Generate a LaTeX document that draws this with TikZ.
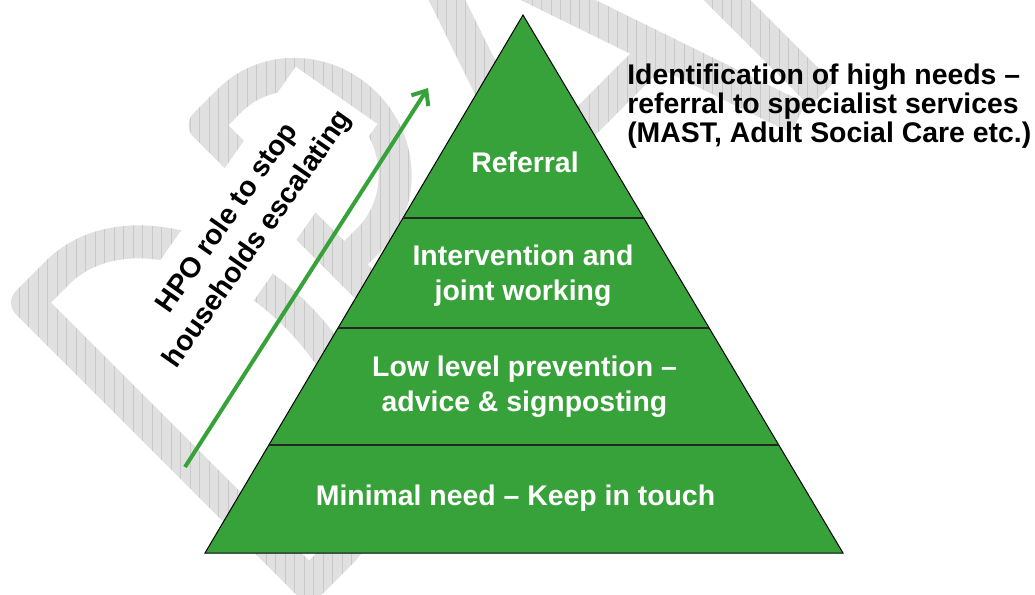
\documentclass[tikz,border=0pt]{standalone}
\usepackage{fontspec}
\setmainfont{Liberation Sans}
\usetikzlibrary{arrows.meta,calc}
\definecolor{pyrgreen}{RGB}{56,162,58}
\definecolor{wmgrey}{RGB}{224,224,224}
\definecolor{wmgrid}{RGB}{144,144,144}
\begin{document}
\begin{tikzpicture}[x=0.75pt,y=-0.75pt,
  layertext/.style={text=white,font=\bfseries\fontsize{21.3}{26.25}\selectfont,align=center,inner sep=0pt},
  notetext/.style={text=black,font=\bfseries\fontsize{21.3}{21.75}\selectfont,align=left,anchor=west,inner sep=0pt},
  sidetext/.style={text=black,fill=white,font=\bfseries\fontsize{21.3}{27.75}\selectfont,align=center,
    inner xsep=7.5pt,inner ysep=13.5pt},
  divider/.style={draw=black!85,line width=1.5pt},
  wmstroke/.style={draw=wmgrey,line width=24.75pt,line join=round},
  risearrow/.style={draw=pyrgreen,line width=3pt,-{Straight Barb[length=9pt,width=15pt]}},
]
\useasboundingbox (0,0) rectangle (1035,595);
\fill[white] (0,0) rectangle (1035,595);

% watermark lettering, drawn along a 45 degree baseline
\begin{scope}[rotate=45]
  % D
  \draw[wmstroke] (-194.5,631.5) -- (-194.5,233.5) -- (-152,233.5)
    .. controls (-75.5,233.5) and (-13.5,322.6) .. (-13.5,432.5)
    .. controls (-13.5,542.4) and (-75.5,631.5) .. (-152,631.5) -- cycle;
  % R
  \draw[wmstroke] (56.5,648) -- (56.5,233.5) -- (91,233.5)
    .. controls (142.6,233.5) and (184.5,277.6) .. (184.5,332)
    .. controls (184.5,386.4) and (142.6,430.5) .. (91,430.5) -- (56.5,430.5);
  \draw[wmstroke] (118,430.5) -- (198,640);
  % A
  \draw[wmstroke] (203,648) -- (342,240) -- (481,648);
  \draw[wmstroke] (251,500) -- (433,500);
  % F
  \draw[wmstroke] (514,648) -- (514,233.5) -- (680,233.5);
  \draw[wmstroke] (514,440) -- (650,440);
  % T
  \draw[wmstroke] (600,233.5) -- (800,233.5);
  \draw[wmstroke] (700,233.5) -- (700,648);
\end{scope}
\begin{scope}[blend mode=color burn]
  \draw[wmgrid,line width=0.6pt,step=9.5] (0,0) grid (1035,595);
\end{scope}

% side label on a white text box
\node[sidetext,rotate=55] (hpo) at (243,229) {HPO role to stop\\households escalating};

% rising arrow
\coordinate (arrowtail) at (185,467);
\coordinate (arrowtip) at (428,88);
\draw[risearrow] (arrowtail) -- (arrowtip);

% pyramid
\coordinate (apex) at (523,15);
\coordinate (bl) at (205,553);
\coordinate (br) at (843,553);
\filldraw[fill=pyrgreen,draw=black,line width=0.75pt] (apex) -- (bl) -- (br) -- cycle;
\coordinate (d1l) at ($(apex)!0.3773!(bl)$);
\coordinate (d1r) at ($(apex)!0.3773!(br)$);
\coordinate (d2l) at ($(apex)!0.5818!(bl)$);
\coordinate (d2r) at ($(apex)!0.5818!(br)$);
\coordinate (d3l) at ($(apex)!0.7993!(bl)$);
\coordinate (d3r) at ($(apex)!0.7993!(br)$);
\draw[divider] (d1l) -- (d1r);
\draw[divider] (d2l) -- (d2r);
\draw[divider] (d3l) -- (d3r);

\node[layertext] (referral) at (525,162) {Referral};
\node[layertext] (intervention) at (523,276) {Intervention and\\joint working};
\node[layertext] (lowlevel) at (524.5,387) {Low level prevention –\\advice \& signposting};
\node[layertext] (minimal) at (515.5,498) {Minimal need – Keep in touch};

\node[notetext] (note) at (627,106) {Identification of high needs –\\referral to specialist services\\(MAST, Adult Social Care etc.)};
\end{tikzpicture}
\end{document}
